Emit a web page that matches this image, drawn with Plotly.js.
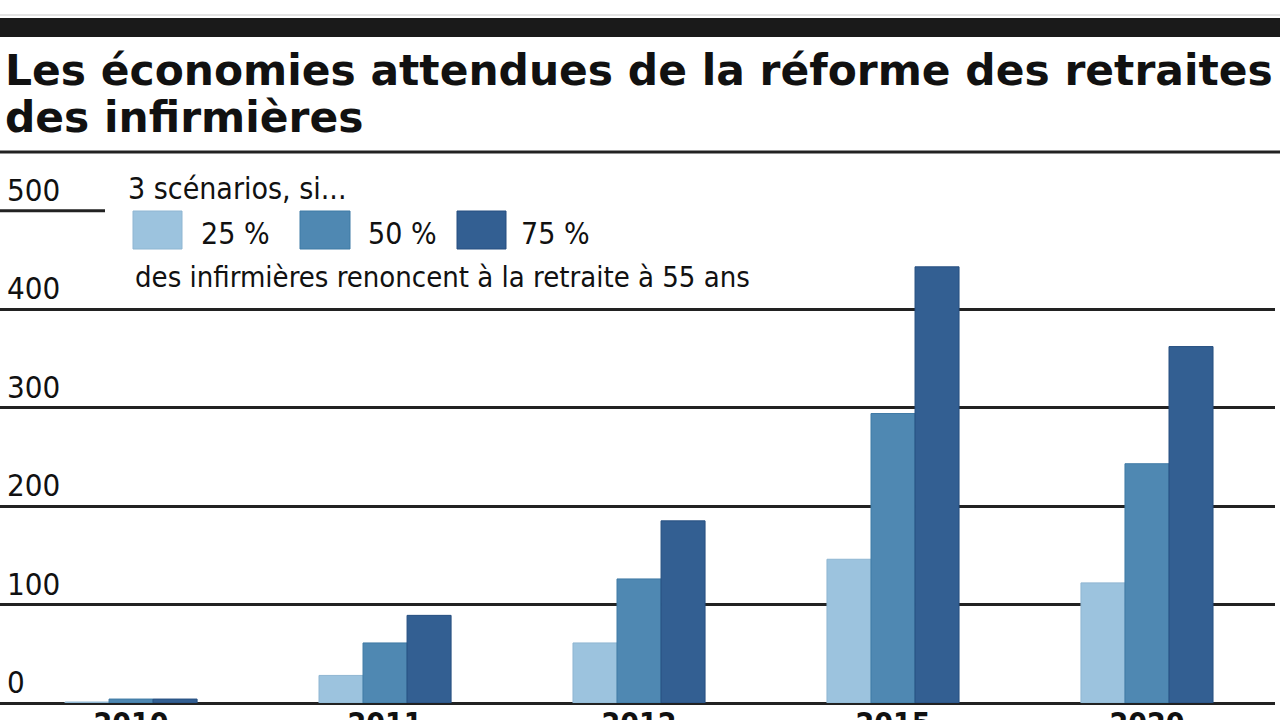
<!DOCTYPE html>
<html>
<head>
<meta charset="utf-8">
<script src="https://cdn.plot.ly/plotly-3.0.1.min.js"></script>
<style>
html,body{margin:0;padding:0;background:#fff;}
#chart{width:1280px;height:720px;}
</style>
</head>
<body>
<div id="chart"></div>
<script>
// ---- data ----
var categories = ['2010', '2011', '2012', '2015', '2020'];
var s25 = [1, 28, 61, 146, 122];
var s50 = [4, 61, 126, 294, 243];
var s75 = [4, 89, 185, 443, 362];
var seriesNames = ['25 %', '50 %', '75 %'];
var yTickVals = [0, 100, 200, 300, 400, 500];
var titleLine1 = 'Les économies attendues de la réforme des retraites';
var titleLine2 = 'des infirmières';
var legendHead = '3 scénarios, si...';
var legendFoot = 'des infirmières renoncent à la retraite à 55 ans';

var colors = ['#9cc3de', '#4f88b2', '#335f92'];
var edge = ['#8fb6d2', '#3f7aa5', '#264f80'];

// pixel helpers (plot area: x 0..1275, y 191..703)
var PW = 1275, PB = 703, PH = 512;
function px(x){ return x / PW; }
function py(y){ return (PB - y) / PH; }

var narrow = '"Liberation Sans Narrow", "Arial Narrow", "DejaVu Sans Condensed", sans-serif';
var boldFont = '"DejaVu Sans", "Liberation Sans", sans-serif';

var traces = [s25, s50, s75].map(function(v, i){
  return {
    type: 'bar', x: categories, y: v, name: seriesNames[i],
    marker: {color: colors[i], line: {color: edge[i], width: 1}},
    hoverinfo: 'x+y+name'
  };
});

var annotations = [];
// y tick labels above the gridlines
yTickVals.forEach(function(v){
  annotations.push({
    xref: 'paper', yref: 'y', x: px(5), y: v, xanchor: 'left', yanchor: 'middle',
    yshift: 21, text: String(v), showarrow: false,
    font: {family: narrow, size: 31, color: '#111'}
  });
});
// title
annotations.push({xref:'paper', yref:'paper', x: px(3), y: py(70), xanchor:'left', yanchor:'middle',
  text: '<b>' + titleLine1 + '</b>', showarrow:false, font:{family: boldFont, size: 42.4, color:'#111'}});
annotations.push({xref:'paper', yref:'paper', x: px(3), y: py(117), xanchor:'left', yanchor:'middle',
  text: '<b>' + titleLine2 + '</b>', showarrow:false, font:{family: boldFont, size: 42.4, color:'#111'}});
// legend texts
annotations.push({xref:'paper', yref:'paper', x: px(126), y: py(188), xanchor:'left', yanchor:'middle',
  text: legendHead, showarrow:false, font:{family: narrow, size: 30, color:'#111'}});
var legX = [199, 366, 519];
seriesNames.forEach(function(n, i){
  annotations.push({xref:'paper', yref:'paper', x: px(legX[i]), y: py(233), xanchor:'left', yanchor:'middle',
    text: n, showarrow:false, font:{family: narrow, size: 30, color:'#111'}});
});
annotations.push({xref:'paper', yref:'paper', x: px(133), y: py(277), xanchor:'left', yanchor:'middle',
  text: legendFoot, showarrow:false, font:{family: narrow, size: 29, color:'#111'}});

var shapes = [];
// top rules
shapes.push({type:'line', xref:'paper', yref:'paper', x0: px(0), x1: px(1280), y0: py(15), y1: py(15), line:{color:'#c8c8c8', width:1}});
shapes.push({type:'rect', xref:'paper', yref:'paper', x0: px(0), x1: px(1280), y0: py(37), y1: py(18), fillcolor:'#1a1a1a', line:{width:0}});
shapes.push({type:'line', xref:'paper', yref:'paper', x0: px(0), x1: px(1280), y0: py(152), y1: py(152), line:{color:'#222', width:3}});
// short 500 rule
shapes.push({type:'line', xref:'paper', yref:'y', x0: px(0), x1: px(105), y0: 500, y1: 500, line:{color:'#222', width:3}, layer:'below'});
// legend squares
var legSq = [[133,182],[300,350],[457,506]];
legSq.forEach(function(s, i){
  shapes.push({type:'rect', xref:'paper', yref:'paper', x0: px(s[0]), x1: px(s[1]), y0: py(249), y1: py(211),
    fillcolor: colors[i], line:{color: edge[i], width:1}});
});

var layout = {
  width: 1280, height: 720,
  margin: {l: 0, r: 5, t: 191, b: 17, pad: 0},
  paper_bgcolor: '#fff', plot_bgcolor: '#fff',
  showlegend: false,
  barmode: 'group', bargap: 0.48, bargroupgap: 0,
  xaxis: {
    type: 'category', range: [-0.516, 4.504], automargin: false,
    showgrid: false, showline: false, ticks: '', fixedrange: true,
    tickfont: {family: narrow, size: 30, color: '#111', weight: 'bold'}
  },
  yaxis: {
    range: [0, 520], automargin: false,
    tickvals: [100, 200, 300, 400], showticklabels: false,
    showgrid: true, gridcolor: '#222', gridwidth: 3,
    zeroline: true, zerolinecolor: '#222', zerolinewidth: 3,
    showline: false, ticks: '', fixedrange: true
  },
  annotations: annotations,
  shapes: shapes
};

Plotly.newPlot('chart', traces, layout, {displayModeBar: false, staticPlot: true});
</script>
</body>
</html>
